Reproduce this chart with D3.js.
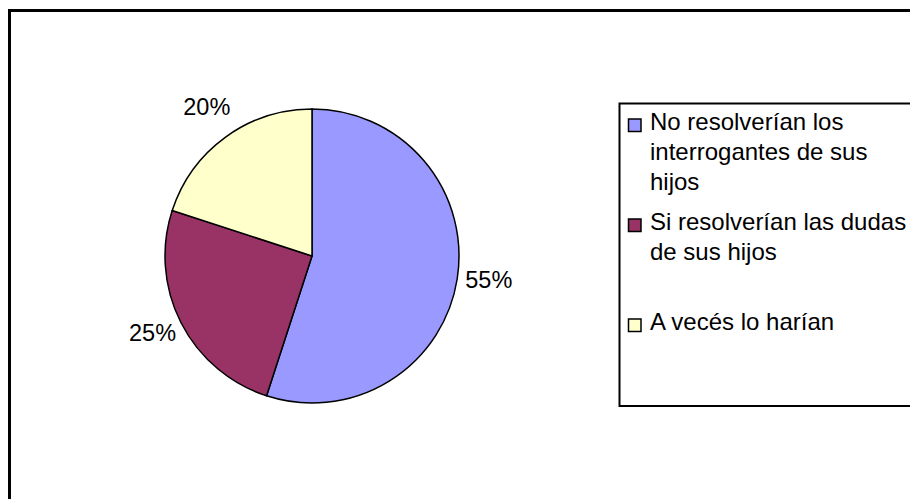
<!DOCTYPE html>
<html>
<head>
<meta charset="utf-8">
<script src="https://cdn.jsdelivr.net/npm/d3@7"></script>
<style>
  html, body { margin: 0; padding: 0; background: #fff; }
  svg { display: block; font-family: "Liberation Sans", Arial, sans-serif; }
</style>
</head>
<body>
<div id="chart"></div>
<script>
// chart data
const categories = [
  "No resolverían los interrogantes de sus hijos",
  "Si resolverían las dudas de sus hijos",
  "A vecés lo harían"
];
const legendLines = [
  ["No resolverían los", "interrogantes de sus", "hijos"],
  ["Si resolverían las dudas", "de sus hijos"],
  ["A vecés lo harían"]
];
const values = [55, 25, 20];
const colors = ["#9999FF", "#993366", "#FFFFCC"];

const width = 910, height = 499;

const svg = d3.select("#chart").append("svg")
  .attr("width", width)
  .attr("height", height);

// outer chart frame (runs off the right and bottom of the picture)
svg.append("rect")
  .attr("x", 9.5)
  .attr("y", 10.5)
  .attr("width", 1000)
  .attr("height", 600)
  .attr("fill", "#fff")
  .attr("stroke", "#000")
  .attr("stroke-width", 3);

// pie
const cx = 312, cy = 256, radius = 147;
const pie = d3.pie().sort(null).value(d => d.value);
const data = values.map((v, i) => ({ name: categories[i], value: v, color: colors[i] }));
const arcs = pie(data);

const arc = d3.arc().innerRadius(0).outerRadius(radius);
const labelArc = d3.arc().innerRadius(179).outerRadius(179);

const g = svg.append("g").attr("transform", `translate(${cx},${cy})`);

g.selectAll("path.slice")
  .data(arcs)
  .enter()
  .append("path")
  .attr("class", "slice")
  .attr("d", arc)
  .attr("fill", d => d.data.color)
  .attr("stroke", "#000")
  .attr("stroke-width", 1.5)
  .attr("stroke-linejoin", "round");

g.selectAll("text.pct")
  .data(arcs)
  .enter()
  .append("text")
  .attr("class", "pct")
  .attr("x", d => labelArc.centroid(d)[0])
  .attr("y", d => labelArc.centroid(d)[1])
  .attr("text-anchor", "middle")
  .attr("dy", "0.18em")
  .style("font-size", "23.5px")
  .attr("fill", "#000")
  .text(d => `${d.data.value}%`);

// legend
const legend = svg.append("g").attr("transform", "translate(619.5,103.5)");

legend.append("rect")
  .attr("x", 0)
  .attr("y", 0)
  .attr("width", 400)
  .attr("height", 302.5)
  .attr("fill", "#fff")
  .attr("stroke", "#000")
  .attr("stroke-width", 2);

const entry = legend.selectAll("g.entry")
  .data(data)
  .enter()
  .append("g")
  .attr("class", "entry")
  .attr("transform", (d, i) => `translate(0,${26.5 + i * 100})`);

entry.append("rect")
  .attr("x", 9)
  .attr("y", -11)
  .attr("width", 12.5)
  .attr("height", 12.5)
  .attr("fill", d => d.color)
  .attr("stroke", "#000")
  .attr("stroke-width", 1.5);

entry.append("text")
  .attr("x", 30.5)
  .attr("y", 0)
  .style("font-size", "24px")
  .attr("fill", "#000")
  .selectAll("tspan")
  .data((d, i) => legendLines[i])
  .enter()
  .append("tspan")
  .attr("x", 30.5)
  .attr("dy", (d, j) => j === 0 ? 0 : 30)
  .text(d => d);
</script>
</body>
</html>
